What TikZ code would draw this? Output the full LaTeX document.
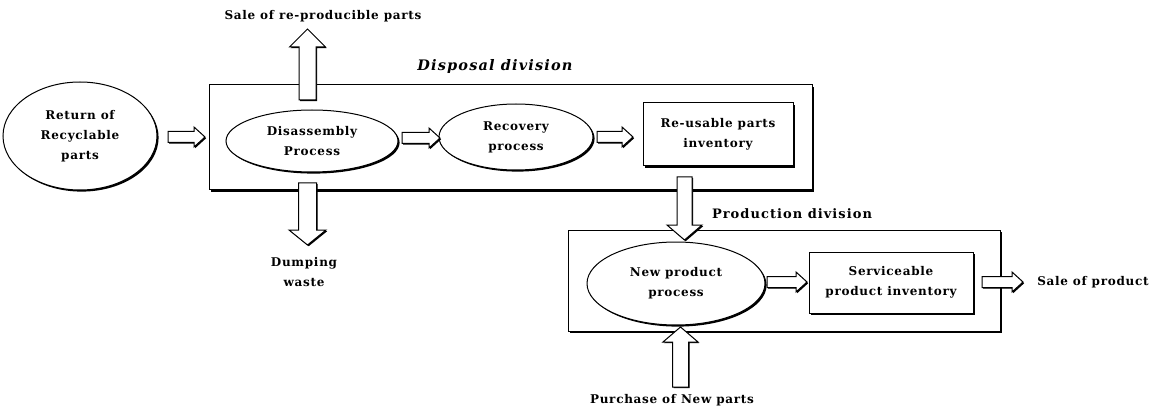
\documentclass[tikz,border=0pt]{standalone}
\usepackage{fontspec}
\setmainfont{DejaVu Serif}
\usetikzlibrary{shapes.geometric,calc,shadows}
\newcommand\lblfont{\fontsize{12}{20}\selectfont\bfseries\addfontfeatures{LetterSpace=6}}
\newcommand\blockarrow[5]{%
  \coordinate (ba-h) at ($(#2)!#5!(#1)$);
  \draw[blk] ($(#1)!#3!90:(#2)$) -- ($(ba-h)!#3!90:(#2)$) -- ($(ba-h)!#4!90:(#2)$) -- (#2)
    -- ($(ba-h)!#4!-90:(#2)$) -- ($(ba-h)!#3!-90:(#2)$) -- ($(#1)!#3!-90:(#2)$) -- cycle;}
\begin{document}
\begin{tikzpicture}[x=1pt,y=-1pt,
  shd/.style={drop shadow={shadow xshift=1.6pt,shadow yshift=-1.6pt,opacity=1,fill=black}},
  proc/.style={ellipse,draw,line width=1pt,fill=white,shd,inner sep=0pt,align=center,font=\lblfont},
  invbox/.style={rectangle,draw,line width=1pt,fill=white,shd,inner sep=0pt,align=center,font=\lblfont},
  divbox/.style={rectangle,draw,line width=1pt,fill=white,shd,inner sep=0pt},
  lbl/.style={align=center,font=\lblfont,inner sep=0pt},
  blk/.style={draw,line width=1pt,fill=white,line join=miter,
    drop shadow={shadow xshift=1.2pt,shadow yshift=-1.2pt,opacity=1,fill=black}}]
\useasboundingbox (0,0) rectangle (1160,409);
% division boxes
\node[divbox,minimum width=603,minimum height=105] (disp) at (510.5,137.5) {};
\node[divbox,minimum width=432,minimum height=101] (prod) at (784,280.5) {};
% titles
\node[lbl,font=\fontsize{14.5}{16}\selectfont\bfseries\itshape\addfontfeatures{LetterSpace=8}] (displbl) at (495,67) {Disposal division};
\node[lbl,font=\fontsize{13}{16}\selectfont\bfseries\addfontfeatures{LetterSpace=8}] (prodlbl) at (792,214) {Production division};
% process nodes
\node[proc,minimum width=154,minimum height=108] (ret) at (80,136) {Return of\\Recyclable\\parts};
\node[proc,minimum width=172,minimum height=62] (dis) at (312,141) {Disassembly\\Process};
\node[proc,minimum width=154,minimum height=66] (rec) at (516,137) {Recovery\\process};
\node[invbox,minimum width=150,minimum height=63] (reinv) at (718,134.5) {Re-usable parts\\inventory};
\node[proc,minimum width=178,minimum height=83] (newp) at (676,283.5) {New product\\process};
\node[invbox,minimum width=164,minimum height=61] (serv) at (891,282.5) {Serviceable\\product inventory};
% free labels
\node[lbl] (salerp) at (323,16) {Sale of re-producible parts};
\node[lbl] (dump) at (304,272) {Dumping\\waste};
\node[lbl] (saleprod) at (1093,282) {Sale of product};
\node[lbl] (purch) at (672,400) {Purchase of New parts};
% arrow end points
\coordinate (a1s) at (168,137);   \coordinate (a1e) at (205,137);
\coordinate (a2s) at (402,138);   \coordinate (a2e) at (440,138);
\coordinate (a3s) at (597,137);   \coordinate (a3e) at (633,137);
\coordinate (a4s) at (767,282);   \coordinate (a4e) at (807,282);
\coordinate (a5s) at (982,282);   \coordinate (a5e) at (1023,282);
\coordinate (a6s) at (307.5,100); \coordinate (a6e) at (307.5,29);
\coordinate (a7s) at (307.5,183); \coordinate (a7e) at (307.5,245);
\coordinate (a8s) at (684.5,177); \coordinate (a8e) at (684.5,240);
\coordinate (a9s) at (680.5,387); \coordinate (a9e) at (680.5,327);
% block arrows
\blockarrow{a1s}{a1e}{5.5pt}{10pt}{11pt}
\blockarrow{a2s}{a2e}{5.5pt}{10pt}{11pt}
\blockarrow{a3s}{a3e}{5.5pt}{10pt}{11pt}
\blockarrow{a4s}{a4e}{5.5pt}{10pt}{11pt}
\blockarrow{a5s}{a5e}{5.5pt}{10pt}{11pt}
\blockarrow{a6s}{a6e}{8.5pt}{18pt}{18pt}
\blockarrow{a7s}{a7e}{9pt}{18.5pt}{15pt}
\blockarrow{a8s}{a8e}{7.5pt}{17.5pt}{15pt}
\blockarrow{a9s}{a9e}{8pt}{17.5pt}{15pt}
\end{tikzpicture}
\end{document}
